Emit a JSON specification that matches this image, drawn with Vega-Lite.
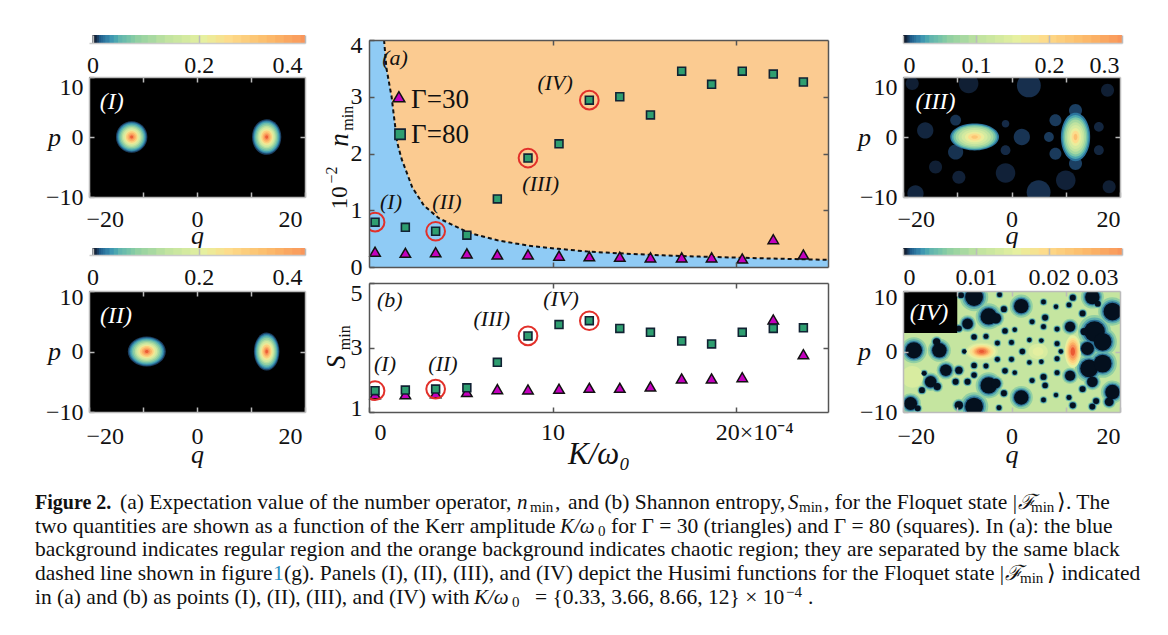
{"$schema":"https://vega.github.io/schema/vega-lite/v6.json","background":"white","padding":0,"spacing":10,
"config":{"view":{"stroke":null},"axis":{"grid":false,"labelFont":"Liberation Serif","titleFont":"Liberation Serif","titleFontWeight":"normal","labelFontSize":24,"labelColor":"#111","titleColor":"#111","labelOverlap":false,"domainWidth":1.5,"tickWidth":1.5}},
"datasets":{
"none":[],
"cbar":[{"t":0,"t2":0.015},{"t":0.01,"t2":0.025},{"t":0.02,"t2":0.035},{"t":0.03,"t2":0.045},{"t":0.04,"t2":0.055},{"t":0.05,"t2":0.065},{"t":0.06,"t2":0.085},{"t":0.08,"t2":0.105},{"t":0.1,"t2":0.125},{"t":0.12,"t2":0.145},{"t":0.14,"t2":0.165},{"t":0.16,"t2":0.185},{"t":0.18,"t2":0.205},{"t":0.2,"t2":0.235},{"t":0.23,"t2":0.265},{"t":0.26,"t2":0.305},{"t":0.3,"t2":0.345},{"t":0.34,"t2":0.385},{"t":0.38,"t2":0.425},{"t":0.42,"t2":0.465},{"t":0.46,"t2":0.505},{"t":0.5,"t2":0.545},{"t":0.54,"t2":0.585},{"t":0.58,"t2":0.625},{"t":0.62,"t2":0.665},{"t":0.66,"t2":0.705},{"t":0.7,"t2":0.745},{"t":0.74,"t2":0.785},{"t":0.78,"t2":0.825},{"t":0.82,"t2":0.865},{"t":0.86,"t2":0.905},{"t":0.9,"t2":0.945},{"t":0.94,"t2":0.985},{"t":0.98,"t2":1}],
"h1":[{"q":-12.1,"p":0,"f":"o","r":2.9,"v":0.02},{"q":-12.1,"p":0,"f":"o","r":2.7,"v":0.05},{"q":-12.1,"p":0,"f":"o","r":2.52,"v":0.09},{"q":-12.1,"p":0,"f":"o","r":2.32,"v":0.14},{"q":-12.1,"p":0,"f":"o","r":2.09,"v":0.2},{"q":-12.1,"p":0,"f":"o","r":1.83,"v":0.3},{"q":-12.1,"p":0,"f":"o","r":1.6,"v":0.42},{"q":-12.1,"p":0,"f":"o","r":1.31,"v":0.55},{"q":-12.1,"p":0,"f":"o","r":1.04,"v":0.7},{"q":-12.1,"p":0,"f":"o","r":0.78,"v":0.85},{"q":-12.1,"p":0,"f":"o","r":0.52,"v":1},{"q":-12.1,"p":0,"f":"o","r":0.29,"v":1.12},
{"q":12.9,"p":0,"f":"t","r":2.7,"v":0.02},{"q":12.9,"p":0,"f":"t","r":2.51,"v":0.05},{"q":12.9,"p":0,"f":"t","r":2.35,"v":0.09},{"q":12.9,"p":0,"f":"t","r":2.16,"v":0.14},{"q":12.9,"p":0,"f":"t","r":1.94,"v":0.2},{"q":12.9,"p":0,"f":"t","r":1.7,"v":0.3},{"q":12.9,"p":0,"f":"t","r":1.49,"v":0.42},{"q":12.9,"p":0,"f":"t","r":1.22,"v":0.55},{"q":12.9,"p":0,"f":"t","r":0.97,"v":0.7},{"q":12.9,"p":0,"f":"t","r":0.73,"v":0.85},{"q":12.9,"p":0,"f":"t","r":0.49,"v":1},{"q":12.9,"p":0,"f":"t","r":0.27,"v":1.12}],
"h2":[{"q":-9.3,"p":0,"f":"w","r":3.5,"v":0.02},{"q":-9.3,"p":0,"f":"w","r":3.26,"v":0.05},{"q":-9.3,"p":0,"f":"w","r":3.05,"v":0.09},{"q":-9.3,"p":0,"f":"w","r":2.8,"v":0.14},{"q":-9.3,"p":0,"f":"w","r":2.52,"v":0.2},{"q":-9.3,"p":0,"f":"w","r":2.21,"v":0.3},{"q":-9.3,"p":0,"f":"w","r":1.93,"v":0.42},{"q":-9.3,"p":0,"f":"w","r":1.58,"v":0.55},{"q":-9.3,"p":0,"f":"w","r":1.26,"v":0.7},{"q":-9.3,"p":0,"f":"w","r":0.95,"v":0.85},{"q":-9.3,"p":0,"f":"w","r":0.63,"v":1},{"q":-9.3,"p":0,"f":"w","r":0.35,"v":1.12},
{"q":12.9,"p":0,"f":"T","r":2.35,"v":0.02},{"q":12.9,"p":0,"f":"T","r":2.19,"v":0.05},{"q":12.9,"p":0,"f":"T","r":2.04,"v":0.09},{"q":12.9,"p":0,"f":"T","r":1.88,"v":0.14},{"q":12.9,"p":0,"f":"T","r":1.69,"v":0.2},{"q":12.9,"p":0,"f":"T","r":1.48,"v":0.3},{"q":12.9,"p":0,"f":"T","r":1.29,"v":0.42},{"q":12.9,"p":0,"f":"T","r":1.06,"v":0.55},{"q":12.9,"p":0,"f":"T","r":0.85,"v":0.7},{"q":12.9,"p":0,"f":"T","r":0.63,"v":0.85},{"q":12.9,"p":0,"f":"T","r":0.42,"v":1},{"q":12.9,"p":0,"f":"T","r":0.24,"v":1.12}],
"h3":[{"q":-15.9,"p":1.1,"f":"o","r":1.5,"v":0.01},{"q":3.2,"p":8.6,"f":"o","r":2.2,"v":0.014},{"q":5,"p":-9.2,"f":"o","r":2.2,"v":0.014},{"q":-17.7,"p":-9.4,"f":"o","r":1.5,"v":0.01},{"q":-10.3,"p":-2.5,"f":"o","r":1.4,"v":0.015},{"q":-10.3,"p":2.8,"f":"o","r":1,"v":0.015},{"q":1.9,"p":0,"f":"o","r":1.5,"v":0.016},{"q":-1.1,"p":2.2,"f":"o","r":0.7,"v":0.012},{"q":-1.1,"p":-2.2,"f":"o","r":0.9,"v":0.012},{"q":6.9,"p":0,"f":"o","r":0.9,"v":0.018},{"q":8.1,"p":2.8,"f":"o","r":1.1,"v":0.018},{"q":8.1,"p":-2.8,"f":"o","r":1.1,"v":0.018},{"q":11.8,"p":4.4,"f":"o","r":1.2,"v":0.02},{"q":11.8,"p":-4.4,"f":"o","r":1.2,"v":0.02},{"q":16.1,"p":1.7,"f":"o","r":0.9,"v":0.01},{"q":16.1,"p":-2.2,"f":"o","r":0.9,"v":0.01},{"q":17.7,"p":7.8,"f":"o","r":1.2,"v":0.007},{"q":18,"p":-8.3,"f":"o","r":1.2,"v":0.007},{"q":-18.3,"p":8.9,"f":"o","r":1.2,"v":0.007},{"q":-14,"p":-5,"f":"o","r":1.2,"v":0.007},{"q":-9.7,"p":-6.7,"f":"o","r":1.2,"v":0.008},{"q":10,"p":-7.2,"f":"o","r":1.8,"v":0.008},{"q":-7.9,"p":8.9,"f":"o","r":1.8,"v":0.007},{"q":-1.1,"p":-6,"f":"o","r":1.8,"v":0.008},
{"q":-6.8,"p":0,"f":"W","r":4.5,"v":0.05},{"q":-6.8,"p":0,"f":"W","r":4.2,"v":0.1},{"q":-6.8,"p":0,"f":"W","r":3.9,"v":0.17},{"q":-6.8,"p":0,"f":"W","r":3.5,"v":0.25},{"q":-6.8,"p":0,"f":"W","r":3,"v":0.33},{"q":-6.8,"p":0,"f":"W","r":2.4,"v":0.42},{"q":-6.8,"p":0,"f":"W","r":1.8,"v":0.52},{"q":-6.8,"p":0,"f":"W","r":1.2,"v":0.62},{"q":-6.8,"p":0,"f":"W","r":0.6,"v":0.75},
{"q":11.8,"p":0,"f":"M","r":2.7,"v":0.05},{"q":11.8,"p":0,"f":"M","r":2.45,"v":0.1},{"q":11.8,"p":0,"f":"M","r":2.2,"v":0.17},{"q":11.8,"p":0,"f":"M","r":1.95,"v":0.25},{"q":11.8,"p":0,"f":"M","r":1.65,"v":0.33},{"q":11.8,"p":0,"f":"M","r":1.35,"v":0.42},{"q":11.8,"p":0,"f":"M","r":1,"v":0.52},{"q":11.8,"p":0,"f":"M","r":0.7,"v":0.62},{"q":11.8,"p":0,"f":"M","r":0.35,"v":0.78}],
"h4":[{"q":4.9,"p":0,"f":"w","r":1.8,"v":0.44},{"q":4.9,"p":0,"f":"w","r":1,"v":0.49},{"q":-18.3,"p":-4.2,"f":"o","r":2,"v":0.44},{"q":-5.5,"p":0,"f":"W","r":3,"v":0.42},{"q":-5.5,"p":0,"f":"W","r":2.6,"v":0.5},{"q":-5.5,"p":0,"f":"W","r":2.2,"v":0.58},{"q":-5.5,"p":0,"f":"W","r":1.8,"v":0.66},{"q":-5.5,"p":0,"f":"W","r":1.5,"v":0.8},{"q":-5.5,"p":0,"f":"W","r":1.2,"v":0.95},{"q":-5.5,"p":0,"f":"W","r":0.9,"v":1.05},{"q":-5.5,"p":0,"f":"W","r":0.5,"v":1.13},{"q":11.3,"p":0,"f":"P","r":1.5,"v":0.5},{"q":11.3,"p":0,"f":"P","r":1.25,"v":0.6},{"q":11.3,"p":0,"f":"P","r":1.05,"v":0.7},{"q":11.3,"p":0,"f":"P","r":0.85,"v":0.85},{"q":11.3,"p":0,"f":"P","r":0.65,"v":1},{"q":11.3,"p":0,"f":"P","r":0.4,"v":1.13}],
"holes":[{"q":-6.9,"p":9,"r":1.85},{"q":-9.3,"p":9.3,"r":0.6},{"q":-2.2,"p":9.4,"r":0.5},{"q":1.8,"p":7.5,"r":1.5},{"q":-1.4,"p":7,"r":0.6},{"q":5.9,"p":8.2,"r":0.5},{"q":8.2,"p":7.4,"r":0.45},{"q":11.3,"p":8.9,"r":0.6},{"q":10.6,"p":7.7,"r":0.5},{"q":14.9,"p":9,"r":1.5},{"q":18.6,"p":6.6,"r":1.85},{"q":15.9,"p":7.9,"r":0.6},{"q":-4.2,"p":5.8,"r":1.7},{"q":-2.9,"p":5.5,"r":1.1},{"q":-8.1,"p":4.6,"r":1.1},{"q":-9.7,"p":3.8,"r":0.6},{"q":-6.9,"p":2.4,"r":0.55},{"q":-4.7,"p":2.5,"r":0.5},{"q":-1.2,"p":3.4,"r":0.55},{"q":0.6,"p":3.6,"r":0.45},{"q":3.8,"p":4.9,"r":0.5},{"q":6.2,"p":5.6,"r":0.6},{"q":5.9,"p":4.1,"r":0.5},{"q":8.4,"p":3.7,"r":0.5},{"q":10.8,"p":4.1,"r":1.05},{"q":13.1,"p":6.3,"r":0.6},{"q":-2.6,"p":1.4,"r":0.5},{"q":0,"p":1.5,"r":0.5},{"q":3.3,"p":1.9,"r":0.45},{"q":5.5,"p":1.8,"r":0.45},{"q":8.4,"p":1.3,"r":0.5},{"q":9.1,"p":0,"r":0.45},{"q":8.4,"p":-1.2,"r":0.5},{"q":2,"p":0,"r":0.55},{"q":-8.7,"p":0,"r":0.45},{"q":-2.6,"p":-1.3,"r":0.5},{"q":0,"p":-1.3,"r":0.5},{"q":3.3,"p":-1.8,"r":0.45},{"q":5.5,"p":-1.7,"r":0.45},{"q":-6.9,"p":-2.3,"r":0.55},{"q":-4.7,"p":-2.4,"r":0.5},{"q":-13.3,"p":0.2,"r":1.5},{"q":-13.8,"p":1.6,"r":0.75},{"q":-18,"p":0.2,"r":1.7},{"q":-16.1,"p":-3.6,"r":0.5},{"q":-12.1,"p":-3.1,"r":1.2},{"q":-9.7,"p":-3.1,"r":0.75},{"q":-6.9,"p":-3.9,"r":0.55},{"q":-10.3,"p":-5,"r":0.6},{"q":-8.1,"p":-5,"r":0.6},{"q":-14.9,"p":-5,"r":1.2},{"q":-13.7,"p":-5.8,"r":0.75},{"q":-16.5,"p":-6.4,"r":0.6},{"q":-4.2,"p":-5.6,"r":1.7},{"q":-2.9,"p":-5.3,"r":1},{"q":-1.2,"p":-3.2,"r":0.55},{"q":0.6,"p":-3.5,"r":0.45},{"q":3.8,"p":-4.8,"r":0.5},{"q":5.9,"p":-4.2,"r":0.6},{"q":6.2,"p":-5.6,"r":0.55},{"q":8.4,"p":-3.5,"r":0.5},{"q":10.8,"p":-4,"r":1.05},{"q":13.1,"p":-6.2,"r":0.6},{"q":-1.4,"p":-6.9,"r":0.6},{"q":1.8,"p":-7.6,"r":1.5},{"q":5.9,"p":-8,"r":0.5},{"q":8.2,"p":-7.2,"r":0.45},{"q":10.6,"p":-7.6,"r":0.5},{"q":11.3,"p":-8.9,"r":0.6},{"q":-6.9,"p":-9.1,"r":1.85},{"q":-9.7,"p":-8.9,"r":0.85},{"q":-2.3,"p":-9.3,"r":0.5},{"q":-18.6,"p":-8.6,"r":1.35},{"q":-17.3,"p":-9.4,"r":0.6},{"q":14.9,"p":-9.1,"r":0.6},{"q":18.6,"p":-6.7,"r":1.5},{"q":18,"p":-8.3,"r":0.9},{"q":15.6,"p":-8.2,"r":0.6},{"q":15.3,"p":3.3,"r":2.15},{"q":16.8,"p":1.6,"r":1.85},{"q":14,"p":0.5,"r":1.35},{"q":14.3,"p":-2.8,"r":1.85},{"q":16.8,"p":-2,"r":1.85},{"q":14.9,"p":-5,"r":1.1},{"q":13.4,"p":3.3,"r":0.75}],
"box":[{"q":-20,"q2":-10,"p":3.05,"p2":10}],
"names":[{"n":"I","q":-15.8,"p":5.9,"t":"(I)"},{"n":"II","q":-15,"p":5.9,"t":"(II)"},{"n":"III","q":-14,"p":5.9,"t":"(III)"},{"n":"IV","q":-15.2,"p":6.4,"t":"(IV)"}],
"curve":[{"K":0,"n":4},{"K":0.82,"n":4},{"K":0.95,"n":3.5},{"K":1.23,"n":3},{"K":1.53,"n":2.2},{"K":1.78,"n":1.9},{"K":2.36,"n":1.4},{"K":3,"n":1.08},{"K":3.8,"n":0.86},{"K":5.45,"n":0.6},{"K":7,"n":0.47},{"K":8.7,"n":0.375},{"K":10.3,"n":0.32},{"K":12,"n":0.27},{"K":14,"n":0.235},{"K":16,"n":0.205},{"K":18,"n":0.183},{"K":20,"n":0.165},{"K":22.5,"n":0.145},{"K":25,"n":0.125}],
"tri":[{"K":0.33,"n":0.27,"S":1.55},{"K":1.98,"n":0.25,"S":1.55},{"K":3.63,"n":0.26,"S":1.58},{"K":5.33,"n":0.24,"S":1.62},{"K":6.99,"n":0.22,"S":1.71},{"K":8.66,"n":0.22,"S":1.7},{"K":10.35,"n":0.2,"S":1.72},{"K":12,"n":0.19,"S":1.75},{"K":13.66,"n":0.18,"S":1.75},{"K":15.33,"n":0.17,"S":1.79},{"K":17.03,"n":0.17,"S":2.04},{"K":18.66,"n":0.17,"S":2.04},{"K":20.33,"n":0.15,"S":2.08},{"K":22.02,"n":0.49,"S":3.87},{"K":23.66,"n":0.22,"S":2.79}],
"sq":[{"K":0.33,"n":0.79,"S":1.66},{"K":1.98,"n":0.7,"S":1.68},{"K":3.63,"n":0.63,"S":1.71},{"K":5.33,"n":0.56,"S":1.75},{"K":6.99,"n":1.2,"S":2.54},{"K":8.66,"n":1.92,"S":3.36},{"K":10.35,"n":2.17,"S":3.71},{"K":12,"n":2.94,"S":3.83},{"K":13.66,"n":3,"S":3.59},{"K":15.33,"n":2.68,"S":3.47},{"K":17.03,"n":3.45,"S":3.2},{"K":18.66,"n":3.22,"S":3.11},{"K":20.33,"n":3.45,"S":3.47},{"K":22.02,"n":3.4,"S":3.59},{"K":23.66,"n":3.26,"S":3.61}],
"ringed":[{"K":0.33,"n":0.79,"S":1.66},{"K":3.63,"n":0.63,"S":1.71},{"K":8.66,"n":1.92,"S":3.36},{"K":12,"n":2.94,"S":3.83}],
"keyT":[{"K":1.63,"n":3}],"keyS":[{"K":1.69,"n":2.34}],
"notesA":[{"K":1.42,"y":3.68,"t":"(a)"},{"K":10.14,"y":3.24,"t":"(IV)"},{"K":9.35,"y":1.46,"t":"(III)"},{"K":1.2,"y":1.15,"t":"(I)"},{"K":4.25,"y":1.15,"t":"(II)"}],
"gamma":[{"K":2.29,"y":2.95,"t":"Γ=30"},{"K":2.29,"y":2.32,"t":"Γ=80"}],
"notesB":[{"K":1.13,"y":4.47,"t":"(b)"},{"K":0.87,"y":2.48,"t":"(I)"},{"K":4.03,"y":2.48,"t":"(II)"},{"K":6.69,"y":3.89,"t":"(III)"},{"K":10.46,"y":4.5,"t":"(IV)"}],
"caption":[{"ln":1,"col":35,"t":"Figure 2.","k":"b"},{"ln":1,"col":120,"t":"(a) Expectation value of the number operator,","k":"r"},{"ln":1,"col":517,"t":"n","k":"i"},{"ln":1,"col":530,"t":"min","k":"s"},{"ln":1,"col":555,"t":",","k":"r"},{"ln":1,"col":568,"t":"and (b) Shannon entropy,","k":"r"},{"ln":1,"col":788,"t":"S","k":"i"},{"ln":1,"col":799,"t":"min","k":"s"},{"ln":1,"col":824,"t":", for the Floquet state |","k":"r"},{"ln":1,"col":1018,"t":"ℱ","k":"i"},{"ln":1,"col":1031,"t":"min","k":"s"},{"ln":1,"col":1057,"t":"⟩. The","k":"r"},
{"ln":2,"col":35,"t":"two quantities are shown as a function of the Kerr amplitude","k":"r"},{"ln":2,"col":560,"t":"K/ω","k":"i"},{"ln":2,"col":598,"t":"0","k":"s"},{"ln":2,"col":611,"t":"for Γ = 30 (triangles) and Γ = 80 (squares). In (a): the blue","k":"r"},
{"ln":3,"col":35,"t":"background indicates regular region and the orange background indicates chaotic region; they are separated by the same black","k":"r"},
{"ln":4,"col":35,"t":"dashed line shown in figure","k":"r"},{"ln":4,"col":273,"t":"1","k":"l"},{"ln":4,"col":284,"t":"(g). Panels (I), (II), (III), and (IV) depict the Husimi functions for the Floquet state |","k":"r"},{"ln":4,"col":1005,"t":"ℱ","k":"i"},{"ln":4,"col":1020,"t":"min","k":"s"},{"ln":4,"col":1047,"t":"⟩ indicated","k":"r"},
{"ln":5,"col":35,"t":"in (a) and (b) as points (I), (II), (III), and (IV) with","k":"r"},{"ln":5,"col":474,"t":"K/ω","k":"i"},{"ln":5,"col":512,"t":"0","k":"s"},{"ln":5,"col":535,"t":"= {0.33, 3.66, 8.66, 12} × 10","k":"r"},{"ln":5,"col":786,"t":"−4","k":"u"},{"ln":5,"col":808,"t":".","k":"r"}]
},
"vconcat":[
{"spacing":0,"hconcat":[
{"width":45,"height":1,"data":{"name":"none"},"mark":"rule","encoding":{}},
{"bounds":"flush","spacing":0,"vconcat":[
{"width":216,"height":35,"data":{"name":"none"},"mark":"rule","encoding":{}},
{"width":216,"height":8,"data":{"name":"cbar"},"mark":"rect","encoding":{"x":{"field":"t","type":"quantitative","scale":{"domain":[-0.0165,1],"nice":false,"zero":false},"axis":{"values":[0,0.5,1],"labelExpr":"datum.value==0?'0':datum.value==0.5?'0.2':'0.4'","title":null,"tickSize":-8,"tickColor":"#bbb","domainColor":"#ccc","labelPadding":18,"zindex":1,"labelOffset":{"condition":{"test":"datum.value==1","value":-3},"value":0}}},"x2":{"field":"t2"},"color":{"field":"t","type":"quantitative","legend":null,"scale":{"domain":[0,0.03,0.07,0.12,0.2,0.32,0.5,0.62,0.8,1,1.15],"range":["#040d1e","#1f5a88","#3d8fb0","#62b5ae","#92d0a2","#bfe2a0","#e6f0a0","#fddc8c","#fcbc6c","#f8925a","#e9502e"]}}}},
{"width":216,"height":34,"data":{"name":"none"},"mark":"rule","encoding":{}},
{"width":216,"height":120,"view":{"fill":"#000"},"resolve":{"axis":{"x":"independent","y":"independent"}},"layer":[
{"data":{"name":"h1"},"mark":{"type":"point","filled":true,"opacity":1,"strokeWidth":0,"clip":true},"encoding":{"x":{"field":"q","type":"quantitative","scale":{"domain":[-20,20],"nice":false,"zero":false},"axis":{"values":[-20,-10,0,10,20],"labelExpr":"datum.value==-10||datum.value==10?'':datum.label","title":"q","titleFontStyle":"italic","titleFontSize":26,"titlePadding":-9,"tickSize":-5,"domainColor":"#bbb","tickColor":"#bbb","labelPadding":15,"zindex":1,"labelOffset":{"condition":{"test":"abs(datum.value)==20","value":-3},"value":0}}},"y":{"field":"p","type":"quantitative","scale":{"domain":[-10,10],"nice":false,"zero":false},"axis":{"values":[-10,0,10],"title":"p","titleFontStyle":"italic","titleFontSize":26,"titleAngle":0,"titleX":-35,"titleBaseline":"middle","tickSize":-5,"domainColor":"#bbb","tickColor":"#bbb","labelPadding":11,"zindex":1,"labelOffset":{"condition":{"test":"datum.value==10","value":10},"value":0}}},"color":{"field":"v","type":"quantitative","legend":null,"scale":{"domain":[0,0.03,0.07,0.12,0.2,0.32,0.5,0.62,0.8,1,1.15],"range":["#040d1e","#1f5a88","#3d8fb0","#62b5ae","#92d0a2","#bfe2a0","#e6f0a0","#fddc8c","#fcbc6c","#f8925a","#e9502e"]}},"shape":{"field":"f","type":"nominal","legend":null,"scale":{"domain":["o","t","w","T","W","M","P"],"range":["M-1,0A1,1 0 1,1 1,0A1,1 0 1,1 -1,0Z","M-1,0A1,1.22 0 1,1 1,0A1,1.22 0 1,1 -1,0Z","M-1,0A1,.79 0 1,1 1,0A1,.79 0 1,1 -1,0Z","M-1,0A1,1.5 0 1,1 1,0A1,1.5 0 1,1 -1,0Z","M-1,0A1,.55 0 1,1 1,0A1,.55 0 1,1 -1,0Z","M-1,0A1,1.65 0 1,1 1,0A1,1.65 0 1,1 -1,0Z","M-1,0A1,2 0 1,1 1,0A1,2 0 1,1 -1,0Z"]}},"size":{"field":"r","type":"quantitative","legend":null,"scale":{"type":"pow","exponent":2,"domain":[0,10],"range":[0,11750]}}}},
{"data":{"name":"names"},"transform":[{"filter":"datum.n=='I'"}],"mark":{"type":"text","font":"Liberation Serif","fontStyle":"italic","fontSize":24,"baseline":"middle","color":"#fff"},"encoding":{"x":{"field":"q","type":"quantitative","axis":{"orient":"top","values":[-10,0,10],"labels":false,"title":null,"tickSize":-5,"domainColor":"#bbb","tickColor":"#bbb","zindex":1}},"y":{"field":"p","type":"quantitative","axis":{"orient":"right","values":[0],"labels":false,"title":null,"tickSize":-5,"domainColor":"#bbb","tickColor":"#bbb","zindex":1}},"text":{"field":"t"}}}
]},
{"width":216,"height":51,"data":{"name":"none"},"mark":"rule","encoding":{}},
{"width":216,"height":7,"data":{"name":"cbar"},"mark":"rect","encoding":{"x":{"field":"t","type":"quantitative","scale":{"domain":[-0.0165,1],"nice":false,"zero":false},"axis":{"values":[0,0.5,1],"labelExpr":"datum.value==0?'0':datum.value==0.5?'0.2':'0.4'","title":null,"tickSize":-7,"tickColor":"#bbb","domainColor":"#ccc","labelPadding":17,"zindex":1,"labelOffset":{"condition":{"test":"datum.value==1","value":-3},"value":0}}},"x2":{"field":"t2"},"color":{"field":"t","type":"quantitative","legend":null,"scale":{"domain":[0,0.03,0.07,0.12,0.2,0.32,0.5,0.62,0.8,1,1.15],"range":["#040d1e","#1f5a88","#3d8fb0","#62b5ae","#92d0a2","#bfe2a0","#e6f0a0","#fddc8c","#fcbc6c","#f8925a","#e9502e"]}}}},
{"width":216,"height":36,"data":{"name":"none"},"mark":"rule","encoding":{}},
{"width":216,"height":121,"view":{"fill":"#000"},"resolve":{"axis":{"x":"independent","y":"independent"}},"layer":[
{"data":{"name":"h2"},"mark":{"type":"point","filled":true,"opacity":1,"strokeWidth":0,"clip":true},"encoding":{"x":{"field":"q","type":"quantitative","scale":{"domain":[-20,20],"nice":false,"zero":false},"axis":{"values":[-20,-10,0,10,20],"labelExpr":"datum.value==-10||datum.value==10?'':datum.label","title":"q","titleFontStyle":"italic","titleFontSize":26,"titlePadding":-7,"tickSize":-5,"domainColor":"#bbb","tickColor":"#bbb","labelPadding":17,"zindex":1,"labelOffset":{"condition":{"test":"abs(datum.value)==20","value":-3},"value":0}}},"y":{"field":"p","type":"quantitative","scale":{"domain":[-10,10],"nice":false,"zero":false},"axis":{"values":[-10,0,10],"title":"p","titleFontStyle":"italic","titleFontSize":26,"titleAngle":0,"titleX":-35,"titleBaseline":"middle","tickSize":-5,"domainColor":"#bbb","tickColor":"#bbb","labelPadding":11,"zindex":1,"labelOffset":{"condition":{"test":"datum.value==10","value":6},"value":0}}},"color":{"field":"v","type":"quantitative","legend":null,"scale":{"domain":[0,0.03,0.07,0.12,0.2,0.32,0.5,0.62,0.8,1,1.15],"range":["#040d1e","#1f5a88","#3d8fb0","#62b5ae","#92d0a2","#bfe2a0","#e6f0a0","#fddc8c","#fcbc6c","#f8925a","#e9502e"]}},"shape":{"field":"f","type":"nominal","legend":null,"scale":{"domain":["o","t","w","T","W","M","P"],"range":["M-1,0A1,1 0 1,1 1,0A1,1 0 1,1 -1,0Z","M-1,0A1,1.22 0 1,1 1,0A1,1.22 0 1,1 -1,0Z","M-1,0A1,.79 0 1,1 1,0A1,.79 0 1,1 -1,0Z","M-1,0A1,1.5 0 1,1 1,0A1,1.5 0 1,1 -1,0Z","M-1,0A1,.55 0 1,1 1,0A1,.55 0 1,1 -1,0Z","M-1,0A1,1.65 0 1,1 1,0A1,1.65 0 1,1 -1,0Z","M-1,0A1,2 0 1,1 1,0A1,2 0 1,1 -1,0Z"]}},"size":{"field":"r","type":"quantitative","legend":null,"scale":{"type":"pow","exponent":2,"domain":[0,10],"range":[0,11750]}}}},
{"data":{"name":"names"},"transform":[{"filter":"datum.n=='II'"}],"mark":{"type":"text","font":"Liberation Serif","fontStyle":"italic","fontSize":24,"baseline":"middle","color":"#fff"},"encoding":{"x":{"field":"q","type":"quantitative","axis":{"orient":"top","values":[-10,0,10],"labels":false,"title":null,"tickSize":-5,"domainColor":"#bbb","tickColor":"#bbb","zindex":1}},"y":{"field":"p","type":"quantitative","axis":{"orient":"right","values":[0],"labels":false,"title":null,"tickSize":-5,"domainColor":"#bbb","tickColor":"#bbb","zindex":1}},"text":{"field":"t"}}}
]}
]},
{"width":15.5,"height":1,"data":{"name":"none"},"mark":"rule","encoding":{}},
{"bounds":"flush","spacing":0,"vconcat":[
{"width":459,"height":40,"data":{"name":"none"},"mark":"rule","encoding":{}},
{"width":459,"height":227,"view":{"fill":"#FBCB91"},"resolve":{"axis":{"x":"independent","y":"independent"}},"layer":[
{"data":{"name":"curve"},"mark":{"type":"area","color":"#8FCBF5","clip":true},"encoding":{"x":{"field":"K","type":"quantitative","scale":{"domain":[0,25],"nice":false,"zero":false},"axis":{"values":[10,20],"labels":false,"title":null,"tickSize":-5,"domainColor":"#555","tickColor":"#555","zindex":1}},"y":{"field":"n","type":"quantitative","scale":{"domain":[0,4],"nice":false,"zero":false},"axis":{"values":[0,1,2,3,4],"title":null,"tickSize":-5,"domainColor":"#555","tickColor":"#555","labelPadding":12,"zindex":1,"labelOffset":{"condition":{"test":"datum.value==4","value":5},"value":0}}},"y2":{"datum":0}}},
{"data":{"name":"curve"},"transform":[{"filter":"datum.K>0"}],"mark":{"type":"line","color":"#111","strokeWidth":2,"strokeDash":[4,3],"clip":true},"encoding":{"x":{"field":"K","type":"quantitative","axis":null},"y":{"field":"n","type":"quantitative","axis":null}}},
{"data":{"name":"tri"},"mark":{"type":"point","shape":"triangle-up","filled":true,"fill":"#C400BE","stroke":"#111","strokeWidth":1.5,"opacity":1,"size":110},"encoding":{"x":{"field":"K","type":"quantitative","axis":null},"y":{"field":"n","type":"quantitative","axis":null}}},
{"data":{"name":"sq"},"mark":{"type":"point","shape":"square","filled":true,"fill":"#2E9E70","stroke":"#123","strokeWidth":1.6,"opacity":1,"size":62},"encoding":{"x":{"field":"K","type":"quantitative","axis":null},"y":{"field":"n","type":"quantitative","axis":null}}},
{"data":{"name":"ringed"},"mark":{"type":"point","shape":"circle","stroke":"#E2302A","strokeWidth":2,"opacity":1,"size":350,"clip":true},"encoding":{"x":{"field":"K","type":"quantitative","axis":null},"y":{"field":"n","type":"quantitative","axis":null}}},
{"data":{"name":"keyT"},"mark":{"type":"point","shape":"triangle-up","filled":true,"fill":"#C400BE","stroke":"#111","strokeWidth":1.5,"opacity":1,"size":140},"encoding":{"x":{"field":"K","type":"quantitative","axis":null},"y":{"field":"n","type":"quantitative","axis":null}}},
{"data":{"name":"keyS"},"mark":{"type":"point","shape":"square","filled":true,"fill":"#2E9E70","stroke":"#123","strokeWidth":1.6,"opacity":1,"size":105},"encoding":{"x":{"field":"K","type":"quantitative","axis":null},"y":{"field":"n","type":"quantitative","axis":null}}},
{"data":{"name":"gamma"},"mark":{"type":"text","font":"Liberation Serif","fontSize":27,"align":"left","baseline":"middle","color":"#111"},"encoding":{"x":{"field":"K","type":"quantitative","axis":null},"y":{"field":"y","type":"quantitative","axis":null},"text":{"field":"t"}}},
{"data":{"name":"notesA"},"mark":{"type":"text","font":"Liberation Serif","fontStyle":"italic","fontSize":22,"baseline":"middle","color":"#111"},"encoding":{"x":{"field":"K","type":"quantitative","axis":{"orient":"top","values":[10,20],"labels":false,"title":null,"tickSize":-5,"domainColor":"#555","tickColor":"#555","zindex":1}},"y":{"field":"y","type":"quantitative","axis":{"orient":"right","values":[1,2,3],"labels":false,"title":null,"tickSize":-5,"domainColor":"#555","tickColor":"#555","zindex":1}},"text":{"field":"t"}}},
{"data":{"values":[{"K":-1.6,"y":2.24,"t":"n"}]},"mark":{"type":"text","font":"Liberation Serif","fontStyle":"italic","fontSize":27,"angle":270,"baseline":"middle","color":"#111"},"encoding":{"x":{"field":"K","type":"quantitative","axis":null},"y":{"field":"y","type":"quantitative","axis":null},"text":{"field":"t"}}},
{"data":{"values":[{"K":-1.15,"y":2.62,"t":"min"},{"K":-2,"y":1.62,"t":"−2"}]},"mark":{"type":"text","font":"Liberation Serif","fontSize":16,"angle":270,"baseline":"middle","color":"#111"},"encoding":{"x":{"field":"K","type":"quantitative","axis":null},"y":{"field":"y","type":"quantitative","axis":null},"text":{"field":"t"}}},
{"data":{"values":[{"K":-1.6,"y":1.22,"t":"10"}]},"mark":{"type":"text","font":"Liberation Serif","fontSize":23,"angle":270,"baseline":"middle","color":"#111"},"encoding":{"x":{"field":"K","type":"quantitative","axis":null},"y":{"field":"y","type":"quantitative","axis":null},"text":{"field":"t"}}}
]},
{"width":459,"height":16,"data":{"name":"none"},"mark":"rule","encoding":{}},
{"width":459,"height":129,"resolve":{"axis":{"x":"independent","y":"independent"}},"layer":[
{"data":{"name":"tri"},"mark":{"type":"point","shape":"triangle-up","filled":true,"fill":"#C400BE","stroke":"#111","strokeWidth":1.5,"opacity":1,"size":110},"encoding":{"x":{"field":"K","type":"quantitative","scale":{"domain":[0,25],"nice":false,"zero":false},"axis":{"values":[0,10,20],"labelExpr":"datum.value==20?'20×10⁻⁴':datum.label","title":"K/ω₀","titleFontStyle":"italic","titleFontSize":31,"titlePadding":-5,"tickSize":-5,"domainColor":"#555","tickColor":"#555","labelPadding":13,"zindex":1,"labelOffset":{"condition":[{"test":"datum.value==20","value":18},{"test":"datum.value==0","value":5}],"value":0}}},"y":{"field":"S","type":"quantitative","scale":{"domain":[1,5],"nice":false,"zero":false},"axis":{"values":[1,3,5],"title":null,"tickSize":-5,"domainColor":"#555","tickColor":"#555","labelPadding":12,"zindex":1,"labelOffset":{"condition":[{"test":"datum.value==5","value":10},{"test":"datum.value==1","value":-4}],"value":0}}}}},
{"data":{"name":"sq"},"mark":{"type":"point","shape":"square","filled":true,"fill":"#2E9E70","stroke":"#123","strokeWidth":1.6,"opacity":1,"size":62},"encoding":{"x":{"field":"K","type":"quantitative","axis":null},"y":{"field":"S","type":"quantitative","axis":null}}},
{"data":{"name":"ringed"},"mark":{"type":"point","shape":"circle","stroke":"#E2302A","strokeWidth":2,"opacity":1,"size":350,"clip":true},"encoding":{"x":{"field":"K","type":"quantitative","axis":null},"y":{"field":"S","type":"quantitative","axis":null}}},
{"data":{"name":"notesB"},"mark":{"type":"text","font":"Liberation Serif","fontStyle":"italic","fontSize":22,"baseline":"middle","color":"#111"},"encoding":{"x":{"field":"K","type":"quantitative","axis":{"orient":"top","values":[10,20],"labels":false,"title":null,"tickSize":-5,"domainColor":"#555","tickColor":"#555","zindex":1}},"y":{"field":"y","type":"quantitative","axis":{"orient":"right","values":[3],"labels":false,"title":null,"tickSize":-5,"domainColor":"#555","tickColor":"#555","zindex":1}},"text":{"field":"t"}}},
{"data":{"values":[{"K":-1.75,"y":2.55,"t":"S"}]},"mark":{"type":"text","font":"Liberation Serif","fontStyle":"italic","fontSize":27,"angle":270,"baseline":"middle","color":"#111"},"encoding":{"x":{"field":"K","type":"quantitative","axis":null},"y":{"field":"y","type":"quantitative","axis":null},"text":{"field":"t"}}},
{"data":{"values":[{"K":-1.3,"y":3.3,"t":"min"}]},"mark":{"type":"text","font":"Liberation Serif","fontSize":16,"angle":270,"baseline":"middle","color":"#111"},"encoding":{"x":{"field":"K","type":"quantitative","axis":null},"y":{"field":"y","type":"quantitative","axis":null},"text":{"field":"t"}}}
]}
]},
{"width":28,"height":1,"data":{"name":"none"},"mark":"rule","encoding":{}},
{"bounds":"flush","spacing":0,"vconcat":[
{"width":217,"height":35,"data":{"name":"none"},"mark":"rule","encoding":{}},
{"width":219,"height":8,"data":{"name":"cbar"},"mark":"rect","encoding":{"x":{"field":"t","type":"quantitative","scale":{"domain":[0,1],"nice":false,"zero":false},"axis":{"values":[0,0.33333,0.66667,1],"labelExpr":"datum.value==0?'0':datum.value<0.5?'0.1':datum.value<0.9?'0.2':'0.3'","title":null,"tickSize":-8,"tickColor":"#bbb","domainColor":"#ccc","labelPadding":18,"zindex":1,"labelOffset":{"condition":{"test":"datum.value==1","value":-3},"value":0}}},"x2":{"field":"t2"},"color":{"field":"t","type":"quantitative","legend":null,"scale":{"domain":[0,0.03,0.07,0.12,0.2,0.32,0.5,0.62,0.8,1,1.15],"range":["#040d1e","#1f5a88","#3d8fb0","#62b5ae","#92d0a2","#bfe2a0","#e6f0a0","#fddc8c","#fcbc6c","#f8925a","#e9502e"]}}}},
{"width":217,"height":34,"data":{"name":"none"},"mark":"rule","encoding":{}},
{"width":217,"height":120,"view":{"fill":"#000"},"resolve":{"axis":{"x":"independent","y":"independent"}},"layer":[
{"data":{"name":"h3"},"mark":{"type":"point","filled":true,"opacity":1,"strokeWidth":0,"clip":true},"encoding":{"x":{"field":"q","type":"quantitative","scale":{"domain":[-20,20],"nice":false,"zero":false},"axis":{"values":[-20,-10,0,10,20],"labelExpr":"datum.value==-10||datum.value==10?'':datum.label","title":"q","titleFontStyle":"italic","titleFontSize":26,"titlePadding":-9,"tickSize":-5,"domainColor":"#bbb","tickColor":"#bbb","labelPadding":15,"zindex":1,"labelOffset":{"condition":{"test":"datum.value==-20","value":-6},"value":0}}},"y":{"field":"p","type":"quantitative","scale":{"domain":[-10,10],"nice":false,"zero":false},"axis":{"values":[-10,0,10],"title":"p","titleFontStyle":"italic","titleFontSize":26,"titleAngle":0,"titleX":-39,"titleBaseline":"middle","tickSize":-5,"domainColor":"#bbb","tickColor":"#bbb","labelPadding":11,"zindex":1,"labelOffset":{"condition":{"test":"datum.value==10","value":10},"value":0}}},"color":{"field":"v","type":"quantitative","legend":null,"scale":{"domain":[0,0.03,0.07,0.12,0.2,0.32,0.5,0.62,0.8,1,1.15],"range":["#040d1e","#1f5a88","#3d8fb0","#62b5ae","#92d0a2","#bfe2a0","#e6f0a0","#fddc8c","#fcbc6c","#f8925a","#e9502e"]}},"shape":{"field":"f","type":"nominal","legend":null,"scale":{"domain":["o","t","w","T","W","M","P"],"range":["M-1,0A1,1 0 1,1 1,0A1,1 0 1,1 -1,0Z","M-1,0A1,1.22 0 1,1 1,0A1,1.22 0 1,1 -1,0Z","M-1,0A1,.79 0 1,1 1,0A1,.79 0 1,1 -1,0Z","M-1,0A1,1.5 0 1,1 1,0A1,1.5 0 1,1 -1,0Z","M-1,0A1,.55 0 1,1 1,0A1,.55 0 1,1 -1,0Z","M-1,0A1,1.65 0 1,1 1,0A1,1.65 0 1,1 -1,0Z","M-1,0A1,2 0 1,1 1,0A1,2 0 1,1 -1,0Z"]}},"size":{"field":"r","type":"quantitative","legend":null,"scale":{"type":"pow","exponent":2,"domain":[0,10],"range":[0,11750]}}}},
{"data":{"name":"names"},"transform":[{"filter":"datum.n=='III'"}],"mark":{"type":"text","font":"Liberation Serif","fontStyle":"italic","fontSize":24,"baseline":"middle","color":"#fff"},"encoding":{"x":{"field":"q","type":"quantitative","axis":{"orient":"top","values":[-10,0,10],"labels":false,"title":null,"tickSize":-5,"domainColor":"#bbb","tickColor":"#bbb","zindex":1}},"y":{"field":"p","type":"quantitative","axis":{"orient":"right","values":[0],"labels":false,"title":null,"tickSize":-5,"domainColor":"#bbb","tickColor":"#bbb","zindex":1}},"text":{"field":"t"}}}
]},
{"width":217,"height":51,"data":{"name":"none"},"mark":"rule","encoding":{}},
{"width":219,"height":7,"data":{"name":"cbar"},"mark":"rect","encoding":{"x":{"field":"t","type":"quantitative","scale":{"domain":[0,1],"nice":false,"zero":false},"axis":{"values":[0,0.33333,0.66667,1],"labelExpr":"datum.value==0?'0':datum.value<0.5?'0.01':datum.value<0.9?'0.02':'0.03'","title":null,"tickSize":-7,"tickColor":"#bbb","domainColor":"#ccc","labelPadding":17,"zindex":1,"labelOffset":{"condition":{"test":"datum.value==1","value":-4},"value":0}}},"x2":{"field":"t2"},"color":{"field":"t","type":"quantitative","legend":null,"scale":{"domain":[0,0.03,0.07,0.12,0.2,0.32,0.5,0.62,0.8,1,1.15],"range":["#040d1e","#1f5a88","#3d8fb0","#62b5ae","#92d0a2","#bfe2a0","#e6f0a0","#fddc8c","#fcbc6c","#f8925a","#e9502e"]}}}},
{"width":217,"height":36,"data":{"name":"none"},"mark":"rule","encoding":{}},
{"width":217,"height":121,"view":{"fill":"#C5E5A0"},"resolve":{"axis":{"x":"independent","y":"independent"},"scale":{"size":"independent"}},"layer":[
{"data":{"name":"holes"},"mark":{"type":"point","shape":"circle","filled":true,"color":"#92D0A2","opacity":1,"strokeWidth":0,"clip":true},"encoding":{"x":{"field":"q","type":"quantitative","scale":{"domain":[-20,20],"nice":false,"zero":false},"axis":{"values":[-20,-10,0,10,20],"labelExpr":"datum.value==-10||datum.value==10?'':datum.label","title":"q","titleFontStyle":"italic","titleFontSize":26,"titlePadding":-7,"tickSize":-5,"domainColor":"#bbb","tickColor":"#bbb","labelPadding":17,"zindex":1,"labelOffset":{"condition":{"test":"datum.value==-20","value":-6},"value":0}}},"y":{"field":"p","type":"quantitative","scale":{"domain":[-10,10],"nice":false,"zero":false},"axis":{"values":[-10,0,10],"title":"p","titleFontStyle":"italic","titleFontSize":26,"titleAngle":0,"titleX":-39,"titleBaseline":"middle","tickSize":-5,"domainColor":"#bbb","tickColor":"#bbb","labelPadding":11,"zindex":1,"labelOffset":{"condition":{"test":"datum.value==10","value":6},"value":0}}},"size":{"field":"r","type":"quantitative","legend":null,"scale":{"type":"pow","exponent":2,"domain":[0,3],"range":[0,2125]}}}},
{"data":{"name":"holes"},"mark":{"type":"point","shape":"circle","filled":true,"color":"#5FB0AE","opacity":1,"strokeWidth":0,"clip":true},"encoding":{"x":{"field":"q","type":"quantitative","axis":null},"y":{"field":"p","type":"quantitative","axis":null},"size":{"field":"r","type":"quantitative","legend":null,"scale":{"type":"pow","exponent":2,"domain":[0,3],"range":[0,1513]}}}},
{"data":{"name":"h4"},"mark":{"type":"point","filled":true,"opacity":1,"strokeWidth":0,"clip":true},"encoding":{"x":{"field":"q","type":"quantitative","axis":null},"y":{"field":"p","type":"quantitative","axis":null},"color":{"field":"v","type":"quantitative","legend":null,"scale":{"domain":[0,0.03,0.07,0.12,0.2,0.32,0.5,0.62,0.8,1,1.15],"range":["#040d1e","#1f5a88","#3d8fb0","#62b5ae","#92d0a2","#bfe2a0","#e6f0a0","#fddc8c","#fcbc6c","#f8925a","#e9502e"]}},"shape":{"field":"f","type":"nominal","legend":null,"scale":{"domain":["o","t","w","T","W","M","P"],"range":["M-1,0A1,1 0 1,1 1,0A1,1 0 1,1 -1,0Z","M-1,0A1,1.22 0 1,1 1,0A1,1.22 0 1,1 -1,0Z","M-1,0A1,.79 0 1,1 1,0A1,.79 0 1,1 -1,0Z","M-1,0A1,1.5 0 1,1 1,0A1,1.5 0 1,1 -1,0Z","M-1,0A1,.55 0 1,1 1,0A1,.55 0 1,1 -1,0Z","M-1,0A1,1.65 0 1,1 1,0A1,1.65 0 1,1 -1,0Z","M-1,0A1,2 0 1,1 1,0A1,2 0 1,1 -1,0Z"]}},"size":{"field":"r","type":"quantitative","legend":null,"scale":{"type":"pow","exponent":2,"domain":[0,10],"range":[0,11750]}}}},
{"data":{"name":"holes"},"mark":{"type":"point","shape":"circle","filled":true,"color":"#2A7097","opacity":1,"strokeWidth":0,"clip":true},"encoding":{"x":{"field":"q","type":"quantitative","axis":null},"y":{"field":"p","type":"quantitative","axis":null},"size":{"field":"r","type":"quantitative","legend":null,"scale":{"type":"pow","exponent":2,"domain":[0,3],"range":[0,1098]}}}},
{"data":{"name":"holes"},"mark":{"type":"point","shape":"circle","filled":true,"color":"#04101E","opacity":1,"strokeWidth":0,"clip":true},"encoding":{"x":{"field":"q","type":"quantitative","axis":null},"y":{"field":"p","type":"quantitative","axis":null},"size":{"field":"r","type":"quantitative","legend":null,"scale":{"type":"pow","exponent":2,"domain":[0,3],"range":[0,830]}}}},
{"data":{"name":"box"},"mark":{"type":"rect","color":"#000"},"encoding":{"x":{"field":"q","type":"quantitative","axis":null},"x2":{"field":"q2"},"y":{"field":"p","type":"quantitative","axis":null},"y2":{"field":"p2"}}},
{"data":{"name":"names"},"transform":[{"filter":"datum.n=='IV'"}],"mark":{"type":"text","font":"Liberation Serif","fontStyle":"italic","fontSize":24,"baseline":"middle","color":"#fff"},"encoding":{"x":{"field":"q","type":"quantitative","axis":{"orient":"top","values":[-10,0,10],"labels":false,"title":null,"tickSize":-5,"domainColor":"#bbb","tickColor":"#bbb","zindex":1}},"y":{"field":"p","type":"quantitative","axis":{"orient":"right","values":[0],"labels":false,"title":null,"tickSize":-5,"domainColor":"#bbb","tickColor":"#bbb","zindex":1}},"text":{"field":"t"}}}
]}
]}
]},
{"width":1168,"height":130,"data":{"name":"caption"},"layer":[
{"transform":[{"filter":"datum.k=='r'"}],"mark":{"type":"text","font":"Liberation Serif","fontSize":21.5,"align":"left","baseline":"middle","color":"#111"},"encoding":{"x":{"field":"col","type":"quantitative","scale":{"domain":[0,1168],"nice":false,"zero":false},"axis":null},"y":{"field":"ln","type":"quantitative","scale":{"domain":[0,5.47],"range":[0,130],"nice":false,"zero":false},"axis":null},"text":{"field":"t"}}},
{"transform":[{"filter":"datum.k=='b'"}],"mark":{"type":"text","font":"Liberation Serif","fontWeight":"bold","fontSize":20,"align":"left","baseline":"middle","color":"#111"},"encoding":{"x":{"field":"col","type":"quantitative","axis":null},"y":{"field":"ln","type":"quantitative","axis":null},"text":{"field":"t"}}},
{"transform":[{"filter":"datum.k=='i'"}],"mark":{"type":"text","font":"Liberation Serif","fontStyle":"italic","fontSize":21,"align":"left","baseline":"middle","color":"#111"},"encoding":{"x":{"field":"col","type":"quantitative","axis":null},"y":{"field":"ln","type":"quantitative","axis":null},"text":{"field":"t"}}},
{"transform":[{"filter":"datum.k=='s'"}],"mark":{"type":"text","font":"Liberation Serif","fontSize":15,"align":"left","baseline":"middle","dy":4,"color":"#111"},"encoding":{"x":{"field":"col","type":"quantitative","axis":null},"y":{"field":"ln","type":"quantitative","axis":null},"text":{"field":"t"}}},
{"transform":[{"filter":"datum.k=='u'"}],"mark":{"type":"text","font":"Liberation Serif","fontSize":15,"align":"left","baseline":"middle","dy":-6,"color":"#111"},"encoding":{"x":{"field":"col","type":"quantitative","axis":null},"y":{"field":"ln","type":"quantitative","axis":null},"text":{"field":"t"}}},
{"transform":[{"filter":"datum.k=='l'"}],"mark":{"type":"text","font":"Liberation Serif","fontSize":21.5,"align":"left","baseline":"middle","color":"#2A8FBF"},"encoding":{"x":{"field":"col","type":"quantitative","axis":null},"y":{"field":"ln","type":"quantitative","axis":null},"text":{"field":"t"}}}
]}
]}
